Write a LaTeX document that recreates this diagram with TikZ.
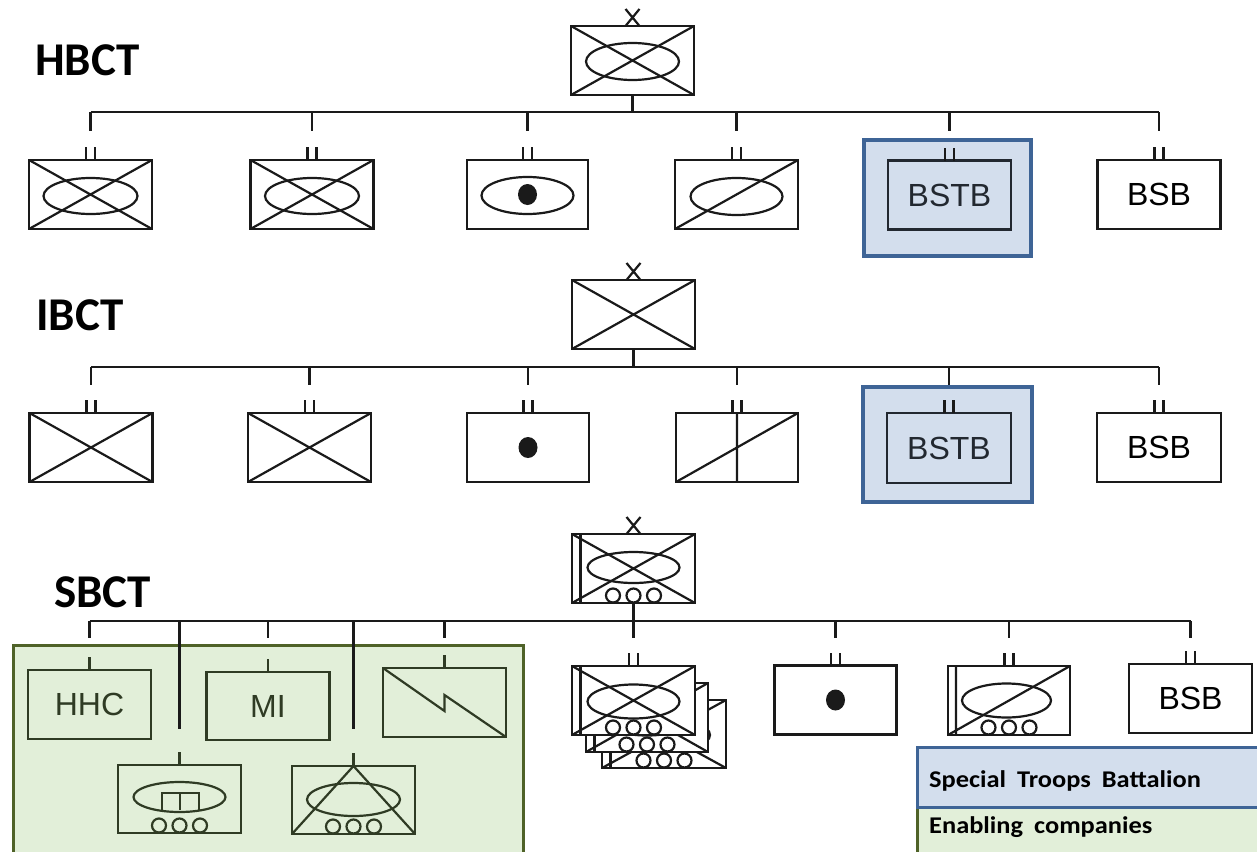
\documentclass[tikz,border=0pt]{standalone}
\usepackage{fontspec}
\setmainfont{Liberation Sans}
\newfontfamily\calfont{Carlito}
\newfontfamily\legfont{Carlito}[FakeStretch=1.1]
\usetikzlibrary{calc}
\definecolor{ink}{HTML}{1A1A1A}
\definecolor{bluefill}{HTML}{D3DEED}
\definecolor{blueline}{HTML}{3E6496}
\definecolor{greenfill}{HTML}{E2EFD9}
\definecolor{greenline}{HTML}{4F6228}
\definecolor{greenink}{HTML}{2F3B24}
\definecolor{bstbink}{HTML}{222830}
\newcommand\symX[2][sym]{\draw[#1] (#2.north west) -- (#2.south east) (#2.north east) -- (#2.south west);}
\newcommand\symBde[1]{\draw[sym] ($(#1.north)+(-7,-17)$) -- ($(#1.north)+(7,0)$) ($(#1.north)+(7,-17)$) -- ($(#1.north)+(-7,0)$);}
\newcommand\symII[1]{\draw[conn] ($(#1.north)+(-4.5,0)$) -- ++(0,-13) ($(#1.north)+(4.5,0)$) -- ++(0,-13);}
\newcommand\symWheels[2][sym]{\foreach \dx in {-20.5,0,20.5}{\draw[#1] ($(#2.south)+(\dx,-7.5)$) circle [radius=7];}}
\newcommand\symDot[1]{\fill[ink] (#1.center) ellipse [x radius=9.5, y radius=10.5];}
\newcommand\symStryk[3]{%
  \draw[sym] ($(#1.north west)+(8.5,0)$) -- ($(#1.south west)+(8.5,0)$);
  \symX{#1}
  \draw[sym] ($(#1.center)+(0,#2)$) ellipse [x radius=46, y radius=#3];
  \symWheels{#1}}
\begin{document}
\begin{tikzpicture}[x=1pt,y=-1pt,
  conn/.style={draw=ink, line width=2.2pt},
  sym/.style={draw=ink, line width=2.2pt},
  gsym/.style={draw=greenink, line width=2.2pt},
  unit/.style={draw=ink, fill=white, line width=2.3pt, minimum width=123pt, minimum height=69pt, inner sep=0pt, outer sep=0pt, font=\fontsize{32}{34}\selectfont},
  gunit/.style={unit, fill=none, draw=greenink, text=greenink},
  bstbo/.style={draw=blueline, fill=bluefill, line width=3.2pt, minimum width=167pt, minimum height=116pt, inner sep=0pt},
  bstbi/.style={unit, fill=none, draw=bstbink, text=bstbink},
  title/.style={font=\calfont\bfseries\fontsize{47}{50}\selectfont, inner sep=0pt, anchor=base west},
  legtext/.style={font=\legfont\bfseries\fontsize{24}{26}\selectfont, inner sep=0pt, anchor=base west}]
\useasboundingbox (0,0) rectangle (1257,851);
\clip (0,0) rectangle (1257,851);
\fill[white] (0,0) rectangle (1257,851);

% ---------- titles
\node[title] (tH) at (35,75) {HBCT};
\node[title] (tI) at (36,330) {IBCT};
\node[title] (tS) at (54,607) {SBCT};

% ---------- HBCT
\node[unit] (hb) at (632.5,60.5) {};
\symX{hb}
\draw[sym] ($(hb.center)+(0,1)$) ellipse [x radius=46.5, y radius=18.5];
\symBde{hb}
\node[unit] (h1) at (90.5,194.5) {};
\symX{h1}
\draw[sym] ($(h1.center)+(0,1.5)$) ellipse [x radius=47, y radius=18];
\node[unit] (h2) at (312,194.5) {};
\symX{h2}
\draw[sym] ($(h2.center)+(0,1.5)$) ellipse [x radius=47, y radius=18];
\node[unit, minimum width=121pt] (h3) at (527.5,194.5) {};
\draw[sym] ($(h3.center)+(0,1)$) ellipse [x radius=46, y radius=18.5];
\symDot{h3}
\node[unit] (h4) at (736.5,194.5) {};
\draw[sym] ($(h4.center)+(0,2)$) ellipse [x radius=46, y radius=18.5];
\draw[sym] (h4.south west) -- (h4.north east);
\node[bstbo] (h5o) at (947.5,198) {};
\node[bstbi] (h5) at (949.5,195) {BSTB};
\node[unit] (h6) at (1159,194.5) {BSB};
\coordinate (hbus) at (0,112);
\draw[conn] (hb.south) -- (hb.south |- hbus);
\draw[conn] (h1.north |- hbus) -- (h6.north |- hbus);
\foreach \n in {h1,h2,h3,h4,h5,h6}{\draw[conn] (\n.north |- hbus) -- ++(0,19); \symII{\n}}

% ---------- IBCT
\node[unit] (ib) at (633.5,314.5) {};
\symX{ib}
\symBde{ib}
\node[unit] (i1) at (91,447.5) {};
\symX{i1}
\node[unit] (i2) at (309.5,447.5) {};
\symX{i2}
\node[unit, minimum width=122pt] (i3) at (528,447.5) {};
\symDot{i3}
\node[unit, minimum width=122pt] (i4) at (737,447.5) {};
\draw[sym] (i4.north) -- (i4.south) (i4.south west) -- (i4.north east);
\node[bstbo, minimum width=169pt, minimum height=115pt] (i5o) at (947.5,444.5) {};
\node[bstbi, minimum width=124pt, minimum height=70pt] (i5) at (949,448) {BSTB};
\node[unit, minimum width=124pt] (i6) at (1159,447.5) {BSB};
\coordinate (ibus) at (0,367);
\draw[conn] (ib.south) -- (ib.south |- ibus);
\draw[conn] (i1.north |- ibus) -- (i6.north |- ibus);
\foreach \n in {i1,i2,i3,i4,i5,i6}{\draw[conn] (\n.north |- ibus) -- ++(0,18); \symII{\n}}

% ---------- SBCT
\node[draw=greenline, fill=greenfill, line width=3pt, minimum width=510pt, minimum height=260pt, anchor=north west, inner sep=0pt] (ebox) at (12,644) {};
\node[unit] (sb) at (633.5,568.5) {};
\symStryk{sb}{-1}{15.5}
\symBde{sb}
\coordinate (sbus) at (0,621);

\node[gunit] (hhc) at (89.5,704.5) {HHC};
\node[gunit, minimum height=68pt] (mi) at (268,706) {MI};
\node[gunit] (sig) at (444.5,702.5) {};
\draw[gsym] (sig.north west) -- ($(sig.center)+(0,8.5)$) -- ($(sig.center)+(0,-7.5)$) -- (sig.south east);
\node[gunit, minimum height=68pt] (eng) at (179.5,799) {};
\draw[gsym] ($(eng.center)+(0,-2)$) ellipse [x radius=46, y radius=15];
\draw[gsym] ($(eng.center)+(-17.5,11)$) -- ($(eng.center)+(-17.5,-6)$) -- ($(eng.center)+(19.5,-6)$) -- ($(eng.center)+(19.5,11)$)
  ($(eng.center)+(0.5,-6)$) -- ($(eng.center)+(0.5,11)$);
\symWheels[gsym]{eng}
\node[gunit, minimum height=68pt] (at) at (353.5,800) {};
\draw[gsym] (at.south west) -- (at.north) -- (at.south east);
\draw[gsym] ($(at.center)+(0,-0.5)$) ellipse [x radius=46.5, y radius=16.5];
\symWheels[gsym]{at}

\node[unit, minimum width=124pt, minimum height=68pt] (s3) at (664,734) {};
\symStryk{s3}{1}{17}
\node[unit, minimum width=122pt] (s2) at (647,717.5) {};
\symStryk{s2}{1}{17}
\node[unit] (sf) at (633.5,700.5) {};
\symStryk{sf}{1}{17}
\node[unit, minimum width=122pt] (sd) at (835.5,700) {};
\symDot{sd}
\node[unit, minimum width=122pt] (sc) at (1009,700.5) {};
\draw[sym] ($(sc.north west)+(8,0)$) -- ($(sc.south west)+(8,0)$) (sc.south west) -- (sc.north east);
\draw[sym] ($(sc.center)+(-2.5,0)$) ellipse [x radius=44.5, y radius=17];
\symWheels{sc}
\node[unit] (sbsb) at (1190.5,698.5) {BSB};

\draw[conn] (sb.south) -- (sb.south |- sbus);
\draw[conn] (hhc.north |- sbus) -- (sbsb.north |- sbus);
\foreach \n in {hhc,mi,sig,sf,sd,sc,sbsb}{\draw[conn] (\n.north |- sbus) -- ++(0,17);}
\foreach \n in {eng,at}{\draw[conn] (\n.north |- sbus) -- ++(0,108);}
\foreach \n in {hhc,mi,sig,eng,at}{\draw[gsym] (\n.north) -- ++(0,-13);}
\foreach \n in {sf,sd,sc,sbsb}{\symII{\n}}

% ---------- legend
\node[draw=greenline, fill=greenfill, line width=3pt, minimum width=360pt, minimum height=80pt, anchor=north west, inner sep=0pt] (legE) at (916,806) {};
\node[draw=blueline, fill=bluefill, line width=3.2pt, minimum width=360pt, minimum height=60pt, anchor=north west, inner sep=0pt] (legS) at (916,745.5) {};
\node[legtext] (legSt) at (929,787) {Special\hspace{5pt} Troops\hspace{5pt} Battalion};
\node[legtext] (legEt) at (929,833) {Enabling\hspace{5pt} companies};
\end{tikzpicture}
\end{document}
